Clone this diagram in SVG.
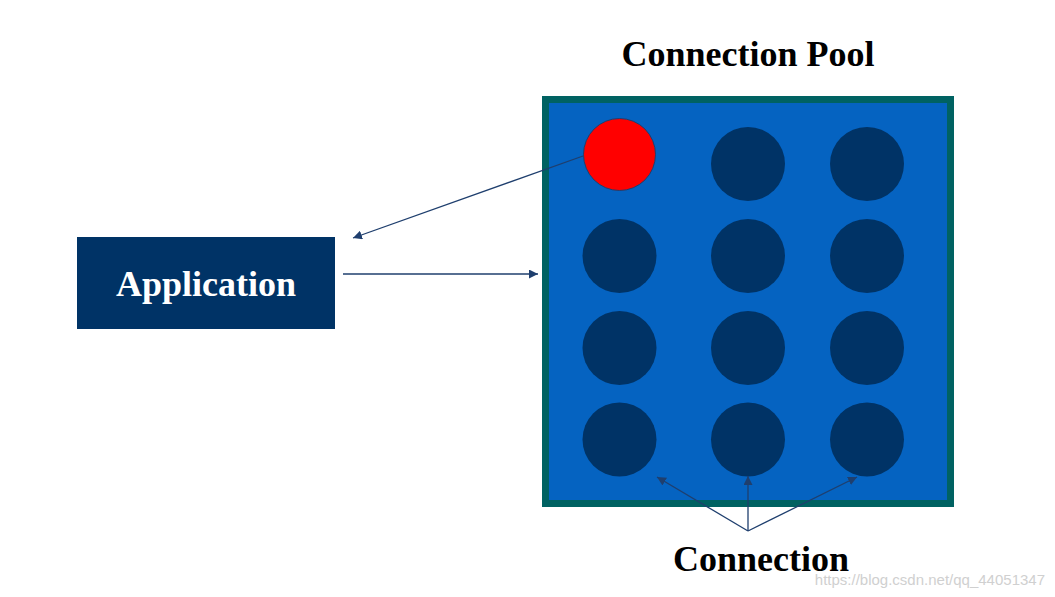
<svg xmlns="http://www.w3.org/2000/svg" width="1055" height="597" viewBox="0 0 1055 597">
<style>
.title{font-family:"Liberation Serif","Times New Roman",serif;font-weight:bold;font-size:36px;fill:#000}
.conn{fill:#003366}
.edge{stroke:#1F3F6E;stroke-width:1.3;fill:none}
</style>
<defs>
<marker id="ah" viewBox="0 0 10 10" refX="10" refY="5" markerWidth="9" markerHeight="9" markerUnits="userSpaceOnUse" orient="auto">
<path d="M0,0 L10,5 L0,10 z" fill="#1F3F6E"/>
</marker>
</defs>
<rect width="1055" height="597" fill="#fff"/>
<text class="title" x="748" y="66" text-anchor="middle">Connection Pool</text>
<g id="pool">
<rect x="545.5" y="99.5" width="405" height="404" fill="#0563C1" stroke="#006262" stroke-width="7"/>
<g id="connections">
<circle cx="619.5" cy="154.5" r="36" fill="#FF0000" stroke="#1F3F6E" stroke-width="1"/>
<circle class="conn" cx="748" cy="164" r="37"/>
<circle class="conn" cx="867" cy="164" r="37"/>
<circle class="conn" cx="619.5" cy="256" r="37"/>
<circle class="conn" cx="748" cy="256" r="37"/>
<circle class="conn" cx="867" cy="256" r="37"/>
<circle class="conn" cx="619.5" cy="348" r="37"/>
<circle class="conn" cx="748" cy="348" r="37"/>
<circle class="conn" cx="867" cy="348" r="37"/>
<circle class="conn" cx="619.5" cy="439.5" r="37"/>
<circle class="conn" cx="748" cy="439.5" r="37"/>
<circle class="conn" cx="867" cy="439.5" r="37"/>
</g>
</g>
<g id="application">
<rect x="77" y="237" width="258" height="92" fill="#003366"/>
<text class="title" x="206" y="296" text-anchor="middle" fill="#fff" style="fill:#fff">Application</text>
</g>
<g id="connectors">
<line class="edge" x1="583" y1="156" x2="353" y2="238" marker-end="url(#ah)"/>
<line class="edge" x1="343" y1="274" x2="538" y2="274" marker-end="url(#ah)"/>
<line class="edge" x1="748" y1="531" x2="657" y2="477" marker-end="url(#ah)"/>
<line class="edge" x1="748" y1="531" x2="748" y2="476" marker-end="url(#ah)"/>
<line class="edge" x1="748" y1="531" x2="857" y2="477" marker-end="url(#ah)"/>
</g>
<g id="connection-label">
<text class="title" x="761" y="571" text-anchor="middle">Connection</text>
</g>
<text x="1045" y="585" text-anchor="end" font-family="Liberation Sans, Arial, sans-serif" font-size="15" fill="#D0D0D0">https://blog.csdn.net/qq_44051347</text>
</svg>
